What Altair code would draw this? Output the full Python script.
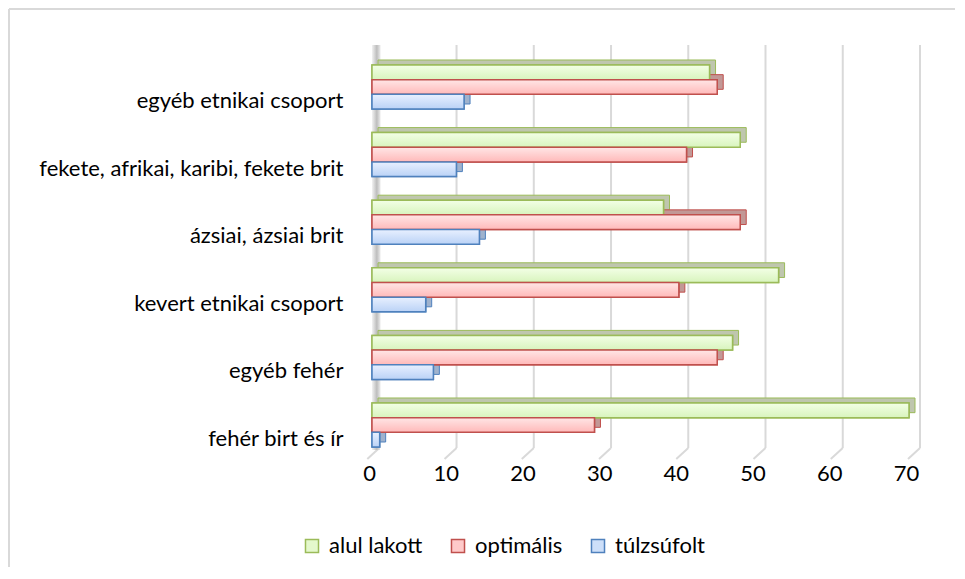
import altair as alt
import pandas as pd

# ---- data (top to bottom as shown) ----
categories = [
    "egyéb etnikai csoport",
    "fekete, afrikai, karibi, fekete brit",
    "ázsiai, ázsiai brit",
    "kevert etnikai csoport",
    "egyéb fehér",
    "fehér birt és ír",
]
series = ["alul lakott", "optimális", "túlzsúfolt"]
alul_lakott = [44, 48, 38, 53, 47, 70]
optimalis = [45, 41, 48, 40, 45, 29]
tulzsufolt = [12, 11, 14, 7, 8, 1]
x_ticks = [0, 10, 20, 30, 40, 50, 60, 70]

# ---- styling ----
border_colors = ["#9bbb59", "#c0504d", "#4f81bd"]
face_colors = ["#e4f8cc", "#ffcaca", "#cddff9"]
grad_top = ["#f3ffe6", "#ffe6e6", "#e8f0ff"]
grad_bottom = ["#d8f4bd", "#ffb9b9", "#bad2f6"]
depth_colors = ["#bfc6ae", "#c29896", "#9fb2cd"]

FONT = "Lato"
FS = 22
W, H = 537, 414
P_IN, P_OUT, ALIGN = 0.349, 0.2365, 0.625
step = H / (len(categories) - P_IN + 2 * P_OUT)
bw = step * (1 - P_IN)
DX, DY = 6, 5
GRID = "#d9d9d9"

rows = []
for i, c in enumerate(categories):
    for s, vals in zip(series, [alul_lakott, optimalis, tulzsufolt]):
        rows.append({"kat": c, "sorozat": s, "ertek": vals[i]})
df = pd.DataFrame(rows)
ticks_df = pd.DataFrame({"t": x_ticks})
one = pd.DataFrame({"t": [0]})

y_enc = alt.Y(
    "kat:N",
    sort=categories,
    scale=alt.Scale(domain=categories, paddingInner=P_IN, paddingOuter=P_OUT, align=ALIGN),
    axis=alt.Axis(
        title=None, domain=False, ticks=False, grid=False,
        labelFont=FONT, labelFontSize=FS, labelColor="#000000",
        labelPadding=29, labelLimit=400, labelOffset=14,
    ),
)


def x_enc(show_axis):
    ax = None
    if show_axis:
        ax = alt.Axis(
            title=None, domain=False, ticks=False, grid=False, values=x_ticks,
            labelFont=FONT, labelFontSize=FS, labelColor="#000000",
            labelPadding=4, labelOffset=-3, labelFlush=False,
        )
    return alt.X("ertek:Q", scale=alt.Scale(domain=[0, 70], nice=False, zero=True), axis=ax)


def yoff(shift):
    return alt.YOffset(
        "sorozat:N",
        sort=series,
        scale=alt.Scale(domain=series, range=[-shift, bw - shift], paddingInner=0, paddingOuter=0),
    )


grid_scale = alt.Scale(domain=[0, 70], range=[7.3, 548], nice=False)

frame_top = alt.Chart(one).mark_rule(color=GRID, strokeWidth=2).encode(
    x=alt.value(-363), x2=alt.value(583), y=alt.value(-36)
)
frame_left = alt.Chart(one).mark_rule(color=GRID, strokeWidth=2).encode(
    x=alt.value(-363), y=alt.value(-36), y2=alt.value(522)
)
grid = alt.Chart(ticks_df).mark_rule(color=GRID, strokeWidth=2).encode(
    x=alt.X("t:Q", scale=grid_scale, axis=None), y=alt.value(0), y2=alt.value(403)
)
slant = alt.Chart(ticks_df).mark_rule(color=GRID, strokeWidth=2, xOffset=-12, x2Offset=0).encode(
    x=alt.X("t:Q", scale=grid_scale, axis=None), x2="t:Q", y=alt.value(414), y2=alt.value(403)
)
wall_grad = alt.Gradient(
    gradient="linear", x1=0, x2=1, y1=0, y2=0,
    stops=[
        alt.GradientStop(color="#f2f2f2", offset=0),
        alt.GradientStop(color="#bdbdbd", offset=0.6),
        alt.GradientStop(color="#e6e6e6", offset=1),
    ],
)
wall = alt.Chart(one).mark_rect(fill=wall_grad).encode(
    x=alt.value(0), x2=alt.value(8), y=alt.value(0), y2=alt.value(405)
)

base = alt.Chart(df)
layers = [frame_top, frame_left, grid, slant, wall]

for i, s in enumerate(series):
    layers.append(
        base.transform_filter(alt.datum.sorozat == s)
        .mark_bar(fill=depth_colors[i], stroke=border_colors[i], strokeWidth=1, xOffset=DX)
        .encode(x=x_enc(False), y=y_enc, yOffset=yoff(DY))
    )

leg = alt.Legend(
    title=None, orient="none", legendX=-71, legendY=490, direction="horizontal",
    symbolType="square", symbolSize=170, symbolStrokeWidth=1.5,
    labelFont=FONT, labelFontSize=FS, labelColor="#000000",
    labelOffset=6, columnPadding=24,
)
front = base.mark_bar(strokeWidth=1.5).encode(
    x=x_enc(True),
    y=y_enc,
    yOffset=yoff(0),
    fill=alt.Fill("sorozat:N", sort=series, scale=alt.Scale(domain=series, range=face_colors), legend=leg),
    stroke=alt.Stroke("sorozat:N", sort=series, scale=alt.Scale(domain=series, range=border_colors), legend=leg),
)
layers.append(front)

for i, s in enumerate(series):
    g = alt.Gradient(
        gradient="linear", x1=0, x2=0, y1=0, y2=1,
        stops=[
            alt.GradientStop(color=grad_top[i], offset=0),
            alt.GradientStop(color=grad_bottom[i], offset=1),
        ],
    )
    layers.append(
        base.transform_filter(alt.datum.sorozat == s)
        .mark_bar(fill=g, stroke=border_colors[i], strokeWidth=1.5)
        .encode(x=x_enc(False), y=y_enc, yOffset=yoff(0))
    )

chart = (
    alt.layer(*layers)
    .resolve_scale(x="independent", yOffset="independent")
    .properties(width=W, height=H, padding=0, background="white")
    .configure_view(stroke=None)
)

chart.save("out.html", embed_options={"renderer": "svg", "actions": False})
